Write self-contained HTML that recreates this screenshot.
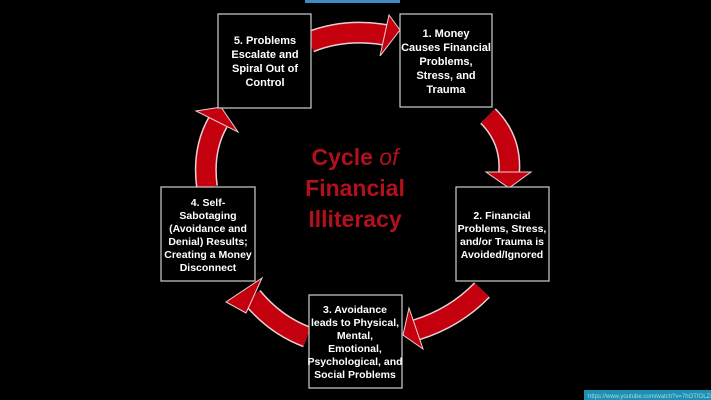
<!DOCTYPE html>
<html><head><meta charset="utf-8"><style>
html,body{margin:0;padding:0;background:#000;}
body{width:711px;height:400px;overflow:hidden;position:relative;font-family:"Liberation Sans",sans-serif;}
</style></head><body>
<svg width="711" height="400" viewBox="0 0 711 400" xmlns="http://www.w3.org/2000/svg" style="position:absolute;left:0;top:0">
<rect width="711" height="400" fill="#000"/>
<rect x="305" y="0" width="95" height="3" fill="#3d8cc4"/>
<rect x="584" y="390" width="127" height="10" fill="#1d8fb2"/>
<text x="588" y="398" font-size="6" fill="#9fdcef" font-family="Liberation Sans">https://www.youtube.com/watch?v=7hOTfOLZr1</text>
<g fill="none" stroke-linecap="butt">
 <g stroke="#e8d0d0" stroke-width="22">
  <path d="M310 42 Q345 28 386 35"/>
  <path d="M488 116 Q512 140 509 174"/>
  <path d="M482 290 Q455 318 416 330"/>
  <path d="M307 337 Q275 325 252 297"/>
  <path d="M207 187 Q202 150 218 122"/>
 </g>
 <g stroke="#c4000f" stroke-width="19">
  <path d="M310 42 Q345 28 386 35"/>
  <path d="M488 116 Q512 140 509 174"/>
  <path d="M482 290 Q455 318 416 330"/>
  <path d="M307 337 Q275 325 252 297"/>
  <path d="M207 187 Q202 150 218 122"/>
 </g>
</g>
<g fill="#c4000f" stroke="#e8d0d0" stroke-width="1">
 <polygon points="389,15 400,30 380,56"/>
 <polygon points="486,172 531,172 509,188"/>
 <polygon points="409,308 403,335 423,349"/>
 <polygon points="262,278 226,302 246,313"/>
 <polygon points="196,111 221,107 238,132"/>
</g>
<g fill="#000" stroke="#cfcfcf" stroke-width="1.2">
 <rect x="218" y="14" width="93" height="94"/>
 <rect x="400" y="14" width="92" height="93"/>
 <rect x="456" y="187" width="93" height="94"/>
 <rect x="309" y="295" width="93" height="93"/>
 <rect x="161" y="187" width="94" height="94"/>
</g>
<g fill="#fff" font-weight="bold" font-size="11" text-anchor="middle" font-family="Liberation Sans">
 <text x="265" y="44">5.  Problems</text>
 <text x="265" y="58">Escalate and</text>
 <text x="265" y="72">Spiral Out of</text>
 <text x="265" y="86">Control</text>
 <text x="446" y="37">1.  Money</text>
 <text x="446" y="51">Causes Financial</text>
 <text x="446" y="65">Problems,</text>
 <text x="446" y="79">Stress, and</text>
 <text x="446" y="93">Trauma</text>
 <text x="502" y="219" font-size="10.5">2.  Financial</text>
 <text x="502" y="232" font-size="10.5">Problems, Stress,</text>
 <text x="502" y="245" font-size="10.5">and/or Trauma is</text>
 <text x="502" y="258" font-size="10.5">Avoided/Ignored</text>
 <text x="355" y="313" font-size="10.5">3.  Avoidance</text>
 <text x="355" y="326" font-size="10.5">leads to  Physical,</text>
 <text x="355" y="339" font-size="10.5">Mental,</text>
 <text x="355" y="352" font-size="10.5">Emotional,</text>
 <text x="355" y="365" font-size="10.5">Psychological, and</text>
 <text x="355" y="378" font-size="10.5">Social Problems</text>
 <text x="208" y="206" font-size="10.5">4.  Self-</text>
 <text x="208" y="219" font-size="10.5">Sabotaging</text>
 <text x="208" y="232" font-size="10.5">(Avoidance and</text>
 <text x="208" y="245" font-size="10.5">Denial) Results;</text>
 <text x="208" y="258" font-size="10.5">Creating a Money</text>
 <text x="208" y="271" font-size="10.5">Disconnect</text>
</g>
<g fill="#b3101c" font-weight="bold" font-size="23" text-anchor="middle" font-family="Liberation Sans">
 <text x="355" y="165">Cycle <tspan font-style="italic" font-weight="normal">of</tspan></text>
 <text x="355" y="196">Financial</text>
 <text x="355" y="227">Illiteracy</text>
</g>
</svg>
</body></html>
